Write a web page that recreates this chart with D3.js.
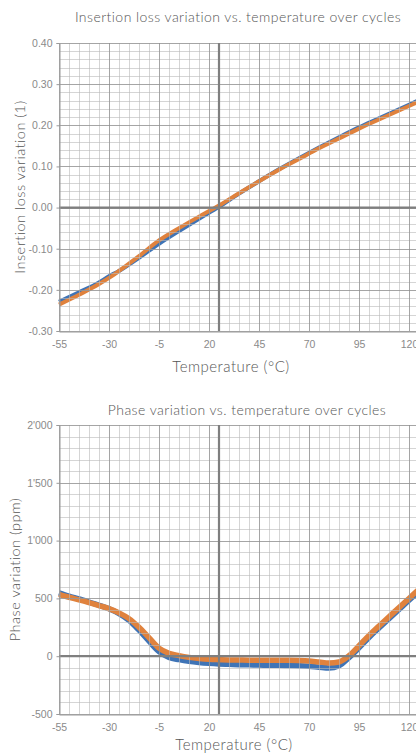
<!DOCTYPE html>
<html><head><meta charset="utf-8">
<script src="https://cdn.jsdelivr.net/npm/d3@7"></script>
<style>
html,body{margin:0;padding:0;background:#fff;overflow:hidden;}
svg{display:block;font-family:"Lato","Open Sans","DejaVu Sans",sans-serif;}
</style></head>
<body><svg id="c" width="416" height="753"></svg>
<script>
// ---- data ----
const ilTemps   = [-55,-45,-35,-30,-25,-15,-5,5,15,25,35,45,55,65,75,85,95,105,115,125];
const ilOrange  = [-0.236,-0.212,-0.186,-0.171,-0.154,-0.118,-0.080,-0.050,-0.022,0.005,0.035,0.064,0.092,0.118,0.144,0.168,0.192,0.214,0.236,0.258];
const ilBlue    = [-0.229,-0.206,-0.182,-0.167,-0.154,-0.122,-0.088,-0.057,-0.027,0.002,0.034,0.064,0.093,0.120,0.146,0.171,0.195,0.217,0.239,0.261];
const ilYTicks  = [0.40,0.30,0.20,0.10,0.00,-0.10,-0.20,-0.30];

const phTemps   = [-55,-50,-45,-40,-35,-30,-25,-20,-15,-10,-5,0,5,10,15,20,25,30,35,40,45,50,55,60,65,70,75,80,85,90,95,100,105,110,115,120,125];
const phOrange  = [535,510,488,464,438,412,375,325,250,160,70,25,5,-10,-20,-27,-30,-32,-33,-34,-34,-34,-35,-36,-38,-42,-50,-58,-50,5,90,180,262,342,420,500,580];
const phBlue    = [548,520,495,468,440,410,368,310,225,130,40,-10,-30,-45,-55,-62,-67,-70,-73,-75,-77,-78,-79,-80,-82,-87,-95,-102,-82,-12,72,162,244,324,404,484,564];
const phYTicks  = [2000,1500,1000,500,0,-500];

const xTicks    = [-55,-30,-5,20,45,70,95,120];

const svg = d3.select("#c");
const BLUE = "#3f74b6", ORANGE = "#e0823d";

function panel(o){
  const g = svg.append("g");
  const x = d3.scaleLinear().domain([-55,125]).range([59,419]);
  const y = d3.scaleLinear().domain(o.yDomain).range([o.bottom,o.top]);
  const minorX = d3.range(-55,126,5);
  const minorY = d3.range(0, Math.round((o.yDomain[1]-o.yDomain[0])/o.minor)+1).map(i=>o.yDomain[0]+i*o.minor);
  const curves = g.append("g");
  const line = d3.line().x(d=>x(d[0])).y(d=>y(d[1])).curve(d3.curveMonotoneX);
  curves.append("path").datum(o.temps.map((t,i)=>[t,o.blue[i]]))
    .attr("d",line).attr("fill","none").attr("stroke",BLUE).attr("stroke-width",o.sw).attr("stroke-linejoin","round");
  curves.append("path").datum(o.temps.map((t,i)=>[t,o.orange[i]]))
    .attr("d",line).attr("fill","none").attr("stroke",ORANGE).attr("stroke-width",o.sw).attr("stroke-linejoin","round");

  const grid = g.append("g");
  grid.selectAll(".mx").data(minorX).join("line")
    .attr("x1",d=>Math.round(x(d))+0.5).attr("x2",d=>Math.round(x(d))+0.5).attr("y1",o.top).attr("y2",o.bottom)
    .attr("stroke","rgba(185,185,185,0.6)").attr("stroke-width",1);
  grid.selectAll(".my").data(minorY).join("line")
    .attr("x1",59).attr("x2",419).attr("y1",d=>Math.round(y(d))+0.5).attr("y2",d=>Math.round(y(d))+0.5)
    .attr("stroke","rgba(185,185,185,0.6)").attr("stroke-width",1);
  grid.selectAll(".Mx").data(xTicks).join("line")
    .attr("x1",d=>Math.round(x(d))+0.5).attr("x2",d=>Math.round(x(d))+0.5).attr("y1",o.top).attr("y2",o.bottom)
    .attr("stroke","rgba(140,140,140,0.65)").attr("stroke-width",1);
  grid.selectAll(".My").data(o.yTicks).join("line")
    .attr("x1",59).attr("x2",419).attr("y1",d=>Math.round(y(d))+0.5).attr("y2",d=>Math.round(y(d))+0.5)
    .attr("stroke","rgba(140,140,140,0.65)").attr("stroke-width",1);
  grid.append("line").attr("x1",59).attr("x2",419).attr("y1",y(0)).attr("y2",y(0))
    .attr("stroke","#7f7f7f").attr("stroke-width",2.2);
  grid.append("line").attr("x1",x(25)).attr("x2",x(25)).attr("y1",o.top).attr("y2",o.bottom)
    .attr("stroke","#7f7f7f").attr("stroke-width",2.2);

  const ya = d3.axisLeft(y).tickValues(o.yTicks).tickFormat(o.fmt).tickSize(3).tickPadding(4);
  const yg = g.append("g").attr("transform","translate(59.5,0)").call(ya);
  yg.select(".domain").attr("stroke","#9a9a9a");
  yg.selectAll(".tick line").attr("stroke","#9a9a9a");
  yg.selectAll("text").attr("fill","#8a8a8a").style("font-size","10.5px").style("font-weight","300");
  const xa = d3.axisBottom(x).tickValues(xTicks).tickFormat(d=>String(d)).tickSize(0).tickPadding(9);
  const xg = g.append("g").attr("transform",`translate(0,${o.bottom+0.5})`).call(xa);
  xg.select(".domain").attr("stroke","#9a9a9a");
  xg.selectAll("text").attr("fill","#8a8a8a").style("font-size","10.5px").style("font-weight","300");

  g.append("text").attr("x",o.titleX).attr("y",o.titleY).attr("text-anchor","middle")
    .attr("fill","#555").style("font-size","14px").style("font-weight","300").style("letter-spacing","0.45px").text(o.title);
  g.append("text").attr("x",o.xtX).attr("y",o.xtY).attr("text-anchor","middle")
    .attr("fill","#555").style("font-size","15px").style("font-weight","300").style("letter-spacing","0.5px").text("Temperature (°C)");
  g.append("text").attr("transform",`translate(${o.ytX},${(o.top+o.bottom)/2}) rotate(-90)`)
    .attr("text-anchor","middle").attr("fill","#555").style("font-size","14.5px").style("font-weight","300").style("letter-spacing","0.5px").text(o.ytitle);
}

panel({temps:ilTemps, orange:ilOrange, blue:ilBlue, yTicks:ilYTicks, yDomain:[-0.30,0.40], minor:0.02,
  top:43, bottom:331, sw:4, fmt:d=>d3.format(".2f")(d).replace("−","-"),
  title:"Insertion loss variation vs. temperature over cycles", titleX:238, titleY:22,
  xtX:231, xtY:372, ytX:25, ytitle:"Insertion loss variation (1)"});

panel({temps:phTemps, orange:phOrange, blue:phBlue, yTicks:phYTicks, yDomain:[-500,2000], minor:100,
  top:425, bottom:714, sw:5.5, fmt:d=>d3.format(",")(d).replace(/,/g,"'").replace("−","-"),
  title:"Phase variation vs. temperature over cycles", titleX:247, titleY:415,
  xtX:234, xtY:750, ytX:20, ytitle:"Phase variation (ppm)"});
</script></body></html>
